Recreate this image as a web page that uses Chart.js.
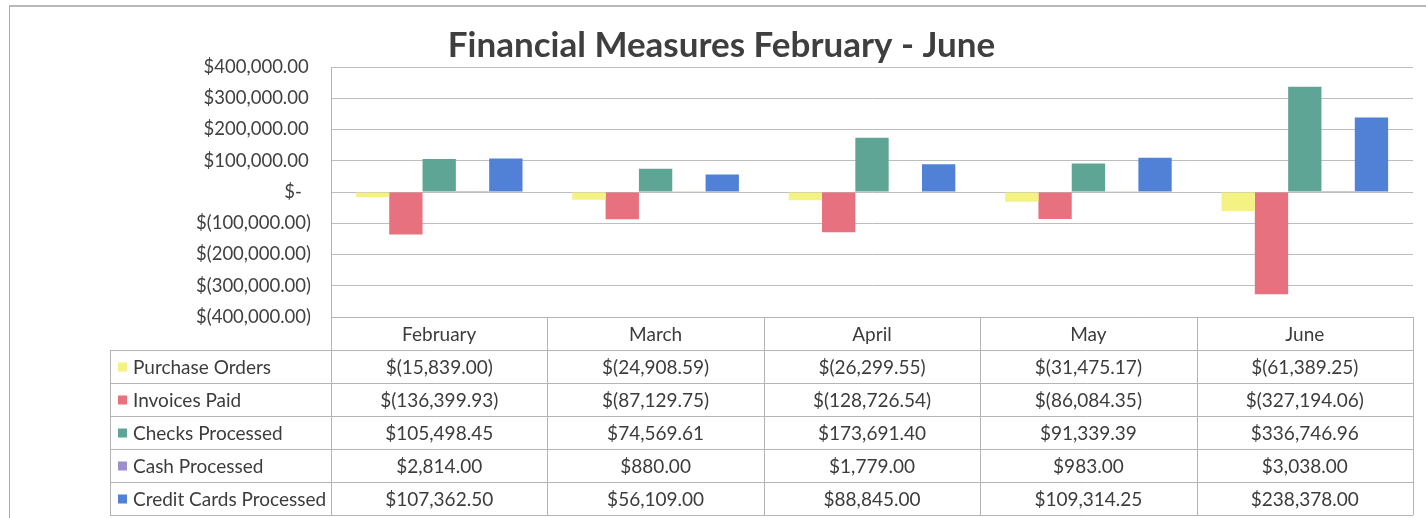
<!DOCTYPE html>
<html>
<head>
<meta charset="utf-8">
<script src="https://cdn.jsdelivr.net/npm/chart.js@4"></script>
<style>
  body { margin: 0; background: #fff; }
  #wrap { position: relative; width: 1426px; height: 518px; }
  #marco { position: absolute; left: 9px; top: 5px; width: 1420px; height: 520px;
           border-left: 1px solid #a8a8a8; border-top: 2px solid #b8b8b8; }
  canvas { position: absolute; left: 0; top: 0; }
</style>
</head>
<body>
<div id="wrap">
  <div id="marco"></div>
  <canvas id="grafico" width="1426" height="518"></canvas>
</div>
<script>
const meses = ["February", "March", "April", "May", "June"];

const series = ["Purchase Orders", "Invoices Paid", "Checks Processed", "Cash Processed", "Credit Cards Processed"];
const colores = ["#f4f283", "#e8717f", "#5fa596", "#9d8fcb", "#5181d6"];

const ordenesCompra = [-15839.00, -24908.59, -26299.55, -31475.17, -61389.25];
const facturasPagas = [-136399.93, -87129.75, -128726.54, -86084.35, -327194.06];
const cheques = [105498.45, 74569.61, 173691.40, 91339.39, 336746.96];
const efectivo = [2814.00, 880.00, 1779.00, 983.00, 3038.00];
const tarjetas = [107362.50, 56109.00, 88845.00, 109314.25, 238378.00];

const valores = [ordenesCompra, facturasPagas, cheques, efectivo, tarjetas];

const fuente = "Lato, 'Open Sans', sans-serif";

function formatoContable(v, espacio) {
  if (v === 0) return "$-" + "\u2002";
  const txt = Math.abs(v).toLocaleString("en-US", { minimumFractionDigits: 2, maximumFractionDigits: 2 });
  if (v < 0) return "$(" + txt + ")";
  return "$" + txt + (espacio ? "\u2009" : "");
}

// tabla de datos debajo del grafico, alineada con la escala x
const tablaDatos = {
  id: "tablaDatos",
  afterDraw(chart) {
    const ctx = chart.ctx;
    const area = chart.chartArea;
    const x = chart.scales.x;
    const ancho = (area.right - area.left) / meses.length;
    const filaAlto = 33;
    const top = area.bottom;
    const labelIzq = 110;
    ctx.save();
    ctx.strokeStyle = "#b4b4b4";
    ctx.lineWidth = 1;

    // lineas horizontales
    ctx.beginPath();
    ctx.moveTo(area.left, top + 0.5);
    ctx.lineTo(area.right, top + 0.5);
    for (let i = 1; i <= series.length + 1; i++) {
      const y = Math.round(top + i * filaAlto) + 0.5;
      ctx.moveTo(labelIzq, y);
      ctx.lineTo(area.right, y);
    }
    // lineas verticales
    for (let i = 0; i <= meses.length; i++) {
      const xx = Math.round(area.left + i * ancho) + 0.5;
      ctx.moveTo(xx, top);
      ctx.lineTo(xx, top + (series.length + 1) * filaAlto);
    }
    ctx.moveTo(labelIzq + 0.5, top + filaAlto);
    ctx.lineTo(labelIzq + 0.5, top + (series.length + 1) * filaAlto);
    ctx.stroke();

    ctx.fillStyle = "#3c3c3c";
    ctx.font = "19px " + fuente;
    ctx.textBaseline = "middle";
    ctx.textAlign = "center";
    meses.forEach((m, i) => {
      ctx.fillText(m, x.getPixelForValue(i), top + filaAlto / 2 + 1);
    });

    series.forEach((s, r) => {
      const yc = top + (r + 1) * filaAlto + filaAlto / 2 + 1;
      ctx.fillStyle = colores[r];
      ctx.fillRect(labelIzq + 8, yc - 5, 9, 9);
      ctx.fillStyle = "#3c3c3c";
      ctx.textAlign = "left";
      ctx.fillText(s, labelIzq + 23, yc);
      ctx.textAlign = "center";
      valores[r].forEach((v, i) => {
        ctx.fillText(formatoContable(v, false), x.getPixelForValue(i), yc);
      });
    });
    ctx.restore();
  }
};

new Chart(document.getElementById("grafico"), {
  type: "bar",
  data: {
    labels: meses,
    datasets: series.map((s, i) => ({
      label: s,
      data: valores[i],
      backgroundColor: colores[i],
      borderWidth: 0
    }))
  },
  options: {
    responsive: false,
    animation: false,
    devicePixelRatio: 1,
    layout: { padding: { left: 30, right: 13, top: 0, bottom: 201 } },
    datasets: { bar: { categoryPercentage: 0.77, barPercentage: 1.0 } },
    plugins: {
      legend: { display: false },
      tooltip: { enabled: false },
      title: {
        display: true,
        text: "Financial Measures February - June",
        color: "#3f3f3f",
        font: { family: fuente, size: 35, weight: "bold", lineHeight: 1.2 },
        padding: { top: 25, bottom: 0 }
      }
    },
    scales: {
      x: {
        display: false,
        grid: { display: false }
      },
      y: {
        min: -400000,
        max: 400000,
        afterFit(scale) { scale.width = 301; },
        ticks: {
          stepSize: 100000,
          padding: 20,
          color: "#404040",
          font: { family: fuente, size: 18.5 },
          callback: v => formatoContable(v, true)
        },
        grid: { color: "#bdbdbd", lineWidth: 1, drawTicks: false },
        border: { display: true, color: "#b4b4b4" }
      }
    }
  },
  plugins: [tablaDatos]
});
</script>
</body>
</html>
